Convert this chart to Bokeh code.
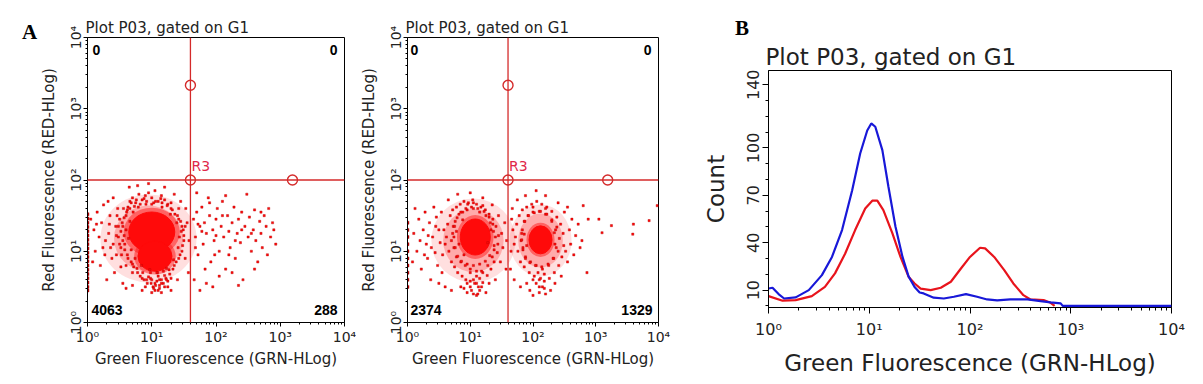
from bokeh.plotting import figure
from bokeh.models import FixedTicker, Span, Label, Div
from bokeh.embed import file_html
from bokeh.resources import INLINE

FONT = "DejaVu Sans"
TXT = "#222222"
GATE_RED = "#d42a2a"
R3_RED = "#e0284a"
DOT_RED = "#ff0a0a"
DOT_EDGE = "#b80000"
BLUE = "#1818d8"
RED = "#e8141c"

# ---------------- data ----------------
decade_ticks = [1, 10, 100, 1000, 10000]
decade_labels = ["10\u2070", "10\u00b9", "10\u00b2", "10\u00b3", "10\u2074"]
axis_min, axis_max = 1, 10000

title_text = "Plot P03, gated on G1"
x_label = "Green Fluorescence (GRN-HLog)"
y_label = "Red Fluorescence (RED-HLog)"
panel_letters = ["A", "B"]

# gate R3 (quadrant marker) in fluorescence units
gate_x = 40
gate_y = 100
handle_top = 2140
handle_right = 1550

quad_counts_1 = [0, 0, 4063, 288]   # upper-left, upper-right, lower-left, lower-right
quad_counts_2 = [0, 0, 2374, 1329]

# population clouds (log10 green, log10 red): centres of the dense cores
core_1 = [(1.00, 1.27), (1.05, 0.93)]
cloud_1 = [(0.95, 1.18)]
core_2 = [(1.08, 1.20), (2.12, 1.16)]
cloud_2 = [(1.05, 1.15), (2.12, 1.15)]

# scattered events, panel 1 (log10 green, log10 red)
halo_1 = [
    (0.55, 1.35), (0.58, 1.10), (0.60, 1.50), (0.62, 0.95), (0.57, 1.22), (0.63, 1.62), (0.52, 1.05),
    (0.60, 1.30), (0.66, 1.70), (0.68, 0.85), (0.70, 1.75), (0.72, 0.78), (0.75, 1.68), (0.78, 0.70),
    (0.80, 1.80), (0.82, 0.65), (0.85, 1.72), (0.88, 0.60), (0.90, 1.78), (0.93, 0.55), (0.95, 1.82),
    (0.98, 0.62), (1.00, 1.75), (1.02, 0.50), (1.05, 1.85), (1.08, 0.58), (1.10, 1.70), (1.12, 0.48),
    (1.15, 1.78), (1.18, 0.55), (1.20, 1.72), (1.22, 0.62), (1.25, 1.66), (1.28, 0.68), (1.30, 1.60),
    (1.33, 0.75), (1.36, 1.52), (1.38, 0.85), (1.42, 1.45), (1.44, 0.95), (1.47, 1.35), (1.48, 1.08),
    (1.50, 1.22), (1.46, 1.28), (0.50, 1.45), (0.48, 1.20), (0.45, 0.95), (0.47, 1.60),
    (0.64, 1.18), (0.66, 1.42), (0.68, 1.02), (0.71, 1.55), (0.74, 0.90), (0.79, 1.62), (0.84, 0.80),
    (0.91, 1.66), (0.97, 0.74), (1.03, 1.68), (1.09, 0.70), (1.16, 1.62), (1.23, 0.76), (1.29, 1.52),
    (1.34, 0.88), (1.39, 1.40), (1.41, 1.05), (1.43, 1.20), (0.62, 1.58), (0.70, 0.70),
    (0.52, 1.28), (0.54, 1.40), (0.55, 1.15), (0.57, 1.47), (0.58, 1.02), (0.61, 1.55), (0.63, 0.90),
    (0.66, 1.60), (0.70, 0.82), (0.73, 1.63), (0.77, 0.76), (0.82, 1.66), (0.86, 0.70), (0.92, 1.70),
    (0.95, 0.64), (1.06, 1.70), (1.12, 0.60), (1.16, 1.68), (1.20, 0.66), (1.24, 1.64), (1.27, 0.74),
    (1.32, 1.58), (1.35, 0.80), (1.40, 1.50), (1.42, 0.90), (1.45, 1.42), (1.47, 1.00), (1.49, 1.30),
    (1.50, 1.15), (0.50, 1.10), (0.53, 0.95), (0.56, 1.60), (0.68, 1.68), (0.76, 1.72), (0.88, 1.74),
    (1.00, 1.66), (1.14, 1.74), (1.30, 1.68), (1.42, 1.60), (1.52, 1.35), (0.99, 0.55), (1.06, 0.52),
    (1.15, 0.55), (1.23, 0.60), (0.92, 0.60), (0.85, 0.62), (1.30, 0.62), (0.48, 1.35), (0.45, 1.22),
    (0.60, 0.80),
    (0.10, 1.30), (0.15, 1.55), (0.12, 1.00), (0.20, 0.80), (0.22, 1.40), (0.25, 1.65), (0.28, 1.15),
    (0.30, 0.60), (0.33, 1.25), (0.35, 1.50), (0.38, 0.90), (0.40, 1.75), (0.42, 0.70), (0.18, 1.20),
    (0.05, 1.45), (0.08, 0.85), (0.27, 0.95), (0.36, 1.05), (0.44, 1.35), (0.32, 1.70), (0.55, 0.55),
    (0.60, 0.48), (0.65, 1.90), (0.70, 0.52), (0.78, 1.92), (0.85, 0.45), (0.95, 1.95), (1.00, 0.42),
    (1.10, 0.45), (1.20, 1.90), (1.25, 0.50), (1.30, 0.45), (1.35, 1.80), (1.40, 0.60), (1.45, 1.70),
    (1.52, 0.90), (1.55, 1.40), (1.58, 1.15), (1.57, 0.70), (1.53, 1.60), (0.90, 0.50), (1.15, 0.42),
    (1.05, 0.45), (1.00, 0.60), (1.05, 0.55), (1.10, 0.65), (1.15, 0.60), (1.20, 0.50), (1.08, 0.70),
    (1.18, 0.72), (1.25, 0.58), (1.12, 0.52), (0.98, 0.70), (1.03, 0.48), (0.40, 1.10), (0.52, 0.78),
    (0.46, 1.50), (0.34, 1.38), (0.24, 1.05), (0.14, 1.38),
    (1.65, 1.45), (1.68, 1.20), (1.70, 1.55), (1.72, 0.95), (1.75, 1.35), (1.78, 1.62), (1.80, 1.10),
    (1.82, 1.40), (1.85, 1.25), (1.88, 1.75), (1.90, 1.50), (1.92, 0.85), (1.95, 1.30), (1.97, 1.15),
    (2.00, 1.45), (2.02, 1.60), (2.05, 1.00), (2.08, 1.35), (2.10, 1.70), (2.12, 1.20), (2.15, 0.75),
    (2.18, 1.50), (2.20, 1.28), (2.22, 1.05), (2.25, 1.40), (2.28, 1.62), (2.30, 0.90), (2.33, 1.25),
    (2.35, 1.45), (2.38, 1.12), (2.40, 1.55), (2.42, 0.60), (2.45, 1.35), (2.48, 1.80), (2.50, 1.20),
    (2.52, 1.48), (2.55, 1.00), (2.58, 1.30), (2.60, 1.58), (2.62, 1.15), (2.65, 0.85), (2.68, 1.42),
    (2.70, 1.25), (2.72, 1.05), (2.75, 1.50), (2.78, 1.35), (2.80, 0.95), (2.82, 1.60), (2.85, 1.20),
    (2.88, 1.40), (2.90, 1.30), (2.93, 1.10), (1.66, 0.60), (1.75, 0.45), (1.85, 0.55), (1.95, 0.50),
    (2.05, 0.65), (2.25, 0.70), (2.35, 0.52), (2.60, 0.75), (1.70, 1.82), (1.90, 1.68), (2.15, 1.78),
    (2.30, 1.15), (1.78, 1.28), (1.83, 0.75), (2.00, 1.22), (2.10, 1.50), (2.40, 1.30), (2.55, 1.25),
    (2.70, 1.55), (1.68, 1.05), (1.72, 1.38), (1.98, 0.95), (2.20, 0.95),
]
edge_1 = [0.45, 0.50, 0.56, 0.62, 0.68, 0.74, 0.80, 0.86, 0.92, 0.98, 1.04, 1.10,
          1.16, 1.22, 1.28, 1.34, 1.40, 1.46, 1.52]

# scattered events, panel 2 (log10 green, log10 red)
halo_2 = [
    (0.62, 1.20), (0.64, 1.38), (0.66, 1.00), (0.68, 1.50), (0.70, 0.85), (0.72, 1.58), (0.75, 0.78),
    (0.78, 1.62), (0.80, 0.70), (0.84, 1.66), (0.87, 0.65), (0.90, 1.70), (0.93, 0.60), (0.97, 1.68),
    (1.00, 0.58), (1.04, 1.72), (1.07, 0.55), (1.10, 1.66), (1.13, 0.50), (1.17, 1.62), (1.20, 0.56),
    (1.24, 1.58), (1.27, 0.66), (1.30, 1.52), (1.33, 0.75), (1.36, 1.45), (1.38, 0.85), (1.41, 1.35),
    (1.43, 0.98), (1.45, 1.22), (1.44, 1.10), (0.60, 1.10), (0.58, 1.30),
    (0.72, 1.25), (0.74, 1.05), (0.76, 1.42), (0.78, 0.92), (0.82, 1.52), (0.85, 0.85), (0.88, 1.55),
    (0.92, 0.80), (0.95, 1.58), (1.00, 0.75), (1.05, 1.60), (1.10, 0.72), (1.15, 1.55), (1.20, 0.70),
    (1.25, 1.50), (1.28, 0.80), (1.32, 1.40), (1.35, 0.92), (1.37, 1.28), (1.38, 1.08), (0.70, 1.15),
    (0.73, 1.35),
    (0.74, 1.20), (0.75, 1.35), (0.76, 1.05), (0.79, 1.47), (0.80, 0.93), (0.85, 1.55), (0.86, 0.86),
    (0.93, 1.60), (0.95, 0.82), (1.02, 1.62), (1.05, 0.80), (1.12, 1.60), (1.15, 0.82), (1.22, 1.56),
    (1.24, 0.86), (1.30, 1.48), (1.31, 0.94), (1.36, 1.38), (1.38, 1.02), (1.40, 1.20), (0.78, 1.28),
    (0.82, 1.10), (0.88, 1.44), (0.90, 0.95), (1.28, 1.12), (1.33, 1.30), (1.00, 0.70), (1.10, 0.65),
    (1.18, 0.72), (1.05, 1.68), (0.96, 1.66), (1.20, 1.64),
    (0.10, 1.25), (0.15, 1.00), (0.18, 1.45), (0.22, 0.75), (0.25, 1.30), (0.28, 1.55), (0.30, 1.10),
    (0.32, 0.90), (0.35, 1.40), (0.37, 0.60), (0.40, 1.20), (0.42, 1.62), (0.44, 0.98), (0.46, 1.48),
    (0.48, 0.80), (0.50, 1.30), (0.52, 1.12), (0.54, 1.55), (0.55, 0.70), (0.56, 0.95), (0.20, 1.15),
    (0.27, 0.95), (0.33, 1.22), (0.38, 1.05), (0.45, 1.35), (0.50, 0.55), (0.60, 0.50), (0.65, 1.72),
    (0.70, 0.45), (0.80, 1.80), (0.85, 0.50), (0.95, 0.42), (1.00, 1.82), (1.05, 0.40), (1.15, 0.45),
    (1.20, 1.75), (1.25, 0.42), (1.30, 0.55), (1.35, 1.65), (1.40, 0.60), (1.45, 1.50), (1.48, 0.85),
    (1.50, 1.25), (1.52, 1.05), (1.55, 1.40), (1.57, 0.75), (1.58, 1.15), (1.10, 0.38), (0.90, 0.48),
    (0.08, 0.85), (0.12, 1.60), (1.00, 0.50), (1.05, 0.60), (1.10, 0.55), (1.15, 0.62), (1.02, 0.45),
    (1.18, 0.50), (0.95, 0.55), (1.12, 0.40),
    (1.72, 1.20), (1.74, 1.38), (1.76, 1.00), (1.78, 1.50), (1.80, 0.85), (1.83, 1.58), (1.86, 0.78),
    (1.90, 1.62), (1.94, 0.70), (1.98, 1.66), (2.02, 0.65), (2.06, 1.70), (2.10, 0.60), (2.14, 1.66),
    (2.18, 0.58), (2.22, 1.62), (2.26, 0.62), (2.30, 1.56), (2.34, 0.70), (2.38, 1.48), (2.41, 0.80),
    (2.44, 1.38), (2.46, 0.92), (2.48, 1.25), (2.49, 1.08), (1.70, 1.10), (1.68, 1.30),
    (1.82, 1.25), (1.84, 1.05), (1.86, 1.42), (1.88, 0.92), (1.92, 1.50), (1.96, 0.85), (2.00, 1.55),
    (2.05, 0.80), (2.10, 1.56), (2.15, 0.75), (2.20, 1.52), (2.25, 0.80), (2.30, 1.42), (2.33, 0.90),
    (2.36, 1.30), (2.37, 1.05), (1.81, 1.15),
    (1.82, 1.16), (1.83, 1.30), (1.84, 1.02), (1.87, 1.42), (1.88, 0.90), (1.93, 1.50), (1.95, 0.84),
    (2.02, 1.54), (2.04, 0.80), (2.12, 1.56), (2.14, 0.78), (2.22, 1.52), (2.24, 0.82), (2.30, 1.44),
    (2.32, 0.90), (2.38, 1.34), (2.40, 1.00), (2.42, 1.18), (1.86, 1.24), (1.90, 1.08), (2.35, 1.10),
    (2.34, 1.26), (2.08, 0.70), (2.18, 0.68), (2.00, 1.62), (2.20, 1.60),
    (1.65, 1.00), (1.66, 1.45), (1.64, 0.75), (1.67, 1.60), (1.70, 0.60), (1.75, 1.72), (1.80, 0.50),
    (1.88, 1.78), (1.95, 0.45), (2.05, 1.85), (2.10, 0.42), (2.15, 0.50), (2.20, 1.78), (2.28, 0.45),
    (2.35, 0.55), (2.40, 1.68), (2.45, 0.65), (2.50, 1.55), (2.55, 0.85), (2.58, 1.30), (2.60, 1.10),
    (2.62, 1.45), (2.65, 0.95), (2.68, 1.22), (2.72, 1.38), (2.75, 1.05), (2.55, 1.62), (2.52, 1.00),
    (2.00, 0.38), (2.20, 0.40), (1.90, 0.55), (2.05, 0.55), (2.10, 0.50), (2.12, 0.62), (2.18, 0.48),
    (2.00, 0.60),
    (2.80, 1.64), (3.05, 1.45), (3.25, 1.36), (3.60, 1.38), (3.85, 1.43), (3.98, 1.64), (3.59, 1.24),
    (3.10, 1.26), (2.86, 0.70), (2.78, 1.15), (2.88, 1.45),
]
edge_2 = [0.50, 0.60, 0.70, 0.80, 0.90, 1.00, 1.10, 1.20, 1.30, 1.40]

# histogram B: log10 green fluorescence vs count
blue_log = [0.0, 0.04, 0.1, 0.155, 0.27, 0.40, 0.53, 0.63, 0.73, 0.83, 0.91, 0.98, 1.02, 1.06, 1.13,
            1.19, 1.26, 1.33, 1.39, 1.45, 1.5, 1.54, 1.64, 1.74, 1.84, 1.96, 2.07, 2.17, 2.27, 2.40,
            2.57, 2.70, 2.80, 2.90, 2.92, 4.0]
blue_cnt = [11, 11.5, 7.5, 4.7, 5.4, 10, 19.5, 31, 48, 73, 96.5, 111, 115.5, 113.4, 98.6,
            75.6, 50.3, 31, 18.7, 12, 8.5, 7.9, 5.2, 4.7, 5.8, 7.5, 5.8, 4.1, 3.5, 4.1,
            4.1, 3.0, 2.2, 1.6, 0, 0]
red_log = [0.0, 0.14, 0.27, 0.43, 0.56, 0.66, 0.76, 0.86, 0.96, 1.03, 1.08, 1.14, 1.23, 1.31, 1.39,
           1.45, 1.51, 1.61, 1.71, 1.81, 1.91, 2.0, 2.10, 2.15, 2.24, 2.34, 2.43, 2.53, 2.60, 2.73,
           2.80, 2.84]
red_cnt = [6.2, 3.3, 3.7, 6.2, 12, 20.6, 33, 48, 61.7, 66.6, 66.6, 60.6, 45.9, 31, 18.5,
           14.2, 11, 10, 11.5, 15.3, 23.7, 31, 36.8, 36.4, 31, 22.7, 14.2, 6.8, 4.1, 3.7,
           2, 0]
count_ticks = [10, 40, 70, 100, 140]
count_range = (-1, 149)
hist_title = "Plot P03, gated on G1"
hist_y_label = "Count"

minor_log = [m * 10 ** k for k in range(4) for m in range(2, 10)]


def style_axes(p, tick_size, label_size, major_out, minor_out):
    for ax in (p.xaxis, p.yaxis):
        ax.axis_line_color = "black"
        ax.major_tick_line_color = "black"
        ax.minor_tick_line_color = "black"
        ax.major_tick_in = 0
        ax.minor_tick_in = 0
        ax.major_tick_out = major_out
        ax.minor_tick_out = minor_out
        ax.major_label_text_font = FONT
        ax.major_label_text_font_size = tick_size
        ax.major_label_text_color = TXT
        ax.axis_label_text_font = FONT
        ax.axis_label_text_font_size = label_size
        ax.axis_label_text_font_style = "normal"
        ax.axis_label_text_color = TXT
    p.xgrid.visible = False
    p.ygrid.visible = False
    p.outline_line_color = "black"
    p.outline_line_width = 1
    p.background_fill_color = "white"
    p.border_fill_color = "white"


def scatter_panel(width, border_left, border_right, halo, edge, clouds, cloud_sizes,
                  cores, core_sizes, counts, spots):
    p = figure(width=width, height=384, x_axis_type="log", y_axis_type="log",
               x_range=(axis_min, axis_max), y_range=(axis_min, axis_max),
               output_backend="svg", toolbar_location=None,
               min_border_left=border_left, min_border_right=border_right,
               min_border_top=37, min_border_bottom=62)
    style_axes(p, "14px", "15px", 4, 2)
    p.title.text = title_text
    p.title.text_font = FONT
    p.title.text_font_size = "15px"
    p.title.text_font_style = "normal"
    p.title.text_color = TXT
    p.title.standoff = 1
    p.title.offset = -2
    for ax in (p.xaxis, p.yaxis):
        ax.ticker = FixedTicker(ticks=decade_ticks, minor_ticks=minor_log)
        ax.major_label_overrides = dict(zip(decade_ticks, decade_labels))
    p.xaxis.axis_label = x_label
    p.yaxis.axis_label = y_label
    p.xaxis.major_label_standoff = 2
    p.xaxis.axis_label_standoff = 2
    p.yaxis.major_label_orientation = "vertical"
    p.yaxis.major_label_standoff = 0
    p.yaxis.axis_label_standoff = 7

    # population clouds: faint envelope, denser middle, a rim, then the solid core
    for (cx, cy), (w, h) in zip(clouds, cloud_sizes):
        p.ellipse(x=[10 ** cx], y=[10 ** cy], width=w, height=h,
                  width_units="screen", height_units="screen",
                  fill_color=DOT_RED, fill_alpha=0.13, line_alpha=0)
        p.ellipse(x=[10 ** cx], y=[10 ** cy], width=w * 0.72, height=h * 0.75,
                  width_units="screen", height_units="screen",
                  fill_color=DOT_RED, fill_alpha=0.24, line_alpha=0)
    for (cx, cy), (w, h) in zip(cores, core_sizes):
        p.ellipse(x=[10 ** cx], y=[10 ** cy], width=w * 1.22, height=h * 1.22,
                  width_units="screen", height_units="screen",
                  fill_color=DOT_RED, fill_alpha=0.45, line_alpha=0)
    for (cx, cy), (w, h) in zip(cores, core_sizes):
        p.ellipse(x=[10 ** cx], y=[10 ** cy], width=w, height=h,
                  width_units="screen", height_units="screen",
                  fill_color=DOT_RED, line_color=DOT_RED, line_width=1)
    hx = [10 ** a for a, b in halo]
    hy = [10 ** b for a, b in halo]
    p.scatter(hx, hy, marker="square", size=2.2, fill_color=DOT_RED,
              line_color=DOT_EDGE, line_width=0.4)
    p.scatter([axis_min] * len(edge), [10 ** b for b in edge], marker="square", size=3,
              fill_color="#c00000", line_color="#a00000", line_width=0.4)

    # gate
    p.add_layout(Span(location=gate_x, dimension="height", line_color=GATE_RED, line_width=1.3))
    p.add_layout(Span(location=gate_y, dimension="width", line_color=GATE_RED, line_width=1.3))
    p.scatter([gate_x, gate_x, handle_right], [gate_y, handle_top, gate_y], marker="circle",
              size=10, fill_color=None, line_color=GATE_RED, line_width=1.4)
    p.add_layout(Label(x=gate_x, y=gate_y, x_offset=1, y_offset=6, text="R3",
                       text_font=FONT, text_font_size="14px", text_color=R3_RED))

    # quadrant counts
    anchors = [(axis_min, axis_max, "left"), (axis_max, axis_max, "right"),
               (axis_min, axis_min, "left"), (axis_max, axis_min, "right")]
    for (x, y, al), (dx, dy), c in zip(anchors, spots, counts):
        p.add_layout(Label(x=x, y=y, x_offset=dx, y_offset=dy, text=str(c), text_align=al,
                           text_font="Liberation Sans", text_font_style="bold",
                           text_font_size="14px", text_color="black"))
    return p


p1 = scatter_panel(356, 87, 12, halo_1, edge_1, cloud_1, [(96, 88)],
                   core_1, [(46, 40), (34, 30)], quad_counts_1,
                   [(5, -17), (-7, -17), (4, 8), (-7, 8)])
p2 = scatter_panel(334, 46, 32, halo_2, edge_2, cloud_2, [(84, 84), (62, 72)],
                   core_2, [(30, 36), (23, 28)], quad_counts_2,
                   [(3, -17), (-7, -17), (3, 8), (-6, 8)])

# ---------------- histogram B ----------------
p3 = figure(width=513, height=384, x_axis_type="log",
            x_range=(axis_min, axis_max), y_range=count_range,
            output_backend="svg", toolbar_location=None,
            min_border_left=78, min_border_right=32, min_border_top=70, min_border_bottom=77)
style_axes(p3, "16px", "23px", 6, 3)
p3.title.text = hist_title
p3.title.text_font = FONT
p3.title.text_font_size = "23px"
p3.title.text_font_style = "normal"
p3.title.text_color = TXT
p3.title.standoff = 1
p3.title.offset = -3
p3.xaxis.ticker = FixedTicker(ticks=decade_ticks, minor_ticks=minor_log)
p3.xaxis.major_label_overrides = dict(zip(decade_ticks, decade_labels))
p3.yaxis.ticker = FixedTicker(ticks=count_ticks, minor_ticks=list(range(0, 150, 10)))
p3.yaxis.major_label_orientation = "vertical"
p3.xaxis.axis_label = x_label
p3.yaxis.axis_label = hist_y_label
p3.xaxis.major_label_standoff = 6
p3.xaxis.axis_label_standoff = 8
p3.yaxis.major_label_standoff = 3
p3.yaxis.axis_label_standoff = 16

p3.line([10 ** v for v in red_log], red_cnt, line_color=RED, line_width=2.2)
p3.line([10 ** v for v in blue_log], blue_cnt, line_color=BLUE, line_width=2.2)

# panel letters, placed absolutely on the page
letter_css = ("font-family: 'Liberation Serif'; font-weight: bold; font-size: 21px; "
              "color: black; line-height: 21px;")
divA = Div(text=f'<span style="{letter_css}">{panel_letters[0]}</span>', margin=0,
           styles={"position": "absolute", "left": "22px", "top": "22px"})
divB = Div(text=f'<span style="{letter_css}">{panel_letters[1]}</span>', margin=0,
           styles={"position": "absolute", "left": "735px", "top": "18px"})

PAGE = """{% block postamble %}<style>
body { display: flex !important; flex-direction: row; align-items: flex-start; }
</style>{% endblock %}"""

open("out.html", "w").write(file_html([p1, p2, p3, divA, divB], INLINE, template=PAGE))
